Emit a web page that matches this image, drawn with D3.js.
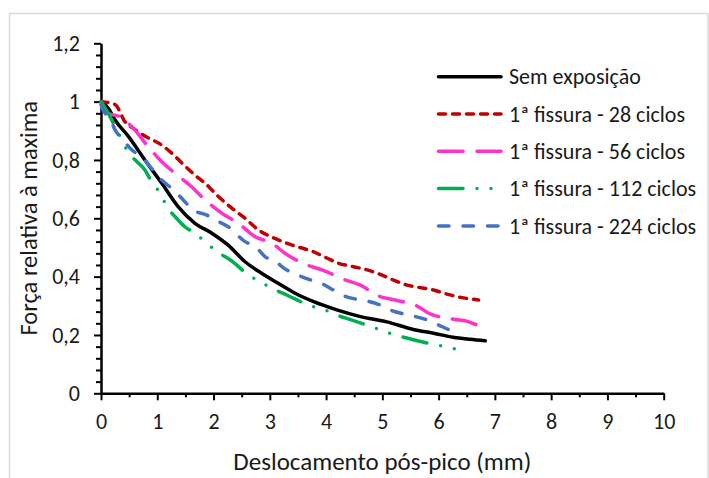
<!DOCTYPE html>
<html>
<head>
<meta charset="utf-8">
<script src="https://cdn.jsdelivr.net/npm/d3@7/dist/d3.min.js"></script>
<style>
  html, body { margin: 0; padding: 0; background: #fff; }
  svg { display: block; }
  text { font-family: Carlito, Calibri, Lato, sans-serif; fill: #1a1a1a; }
</style>
</head>
<body>
<svg id="chart" width="709" height="478"></svg>
<script>
// ---- data ----
const seriesNames = ["Sem exposição", "1ª fissura - 28 ciclos", "1ª fissura - 56 ciclos", "1ª fissura - 112 ciclos", "1ª fissura - 224 ciclos"];

const semExpX = [0, 0.13, 0.25, 0.49, 0.78, 1.08, 1.37, 1.67, 1.97, 2.26, 2.56, 2.86, 3.15, 3.45, 3.78, 4.19, 4.61, 5.08, 5.55, 5.91, 6.26, 6.56, 6.83];
const semExpY = [1.0, 0.977, 0.937, 0.88, 0.80, 0.72, 0.64, 0.583, 0.549, 0.508, 0.451, 0.411, 0.377, 0.343, 0.314, 0.286, 0.263, 0.245, 0.219, 0.206, 0.192, 0.185, 0.18];

const c28X = [0, 0.25, 0.43, 0.6, 0.78, 1.08, 1.26, 1.44, 1.67, 1.85, 2.09, 2.33, 2.56, 2.8, 3.1, 3.45, 3.78, 4.02, 4.22, 4.49, 4.73, 4.96, 5.2, 5.44, 5.68, 5.91, 6.15, 6.39, 6.71];
const c28Y = [1.0, 0.99, 0.93, 0.905, 0.882, 0.851, 0.823, 0.789, 0.748, 0.72, 0.674, 0.634, 0.60, 0.56, 0.53, 0.505, 0.485, 0.463, 0.446, 0.434, 0.423, 0.408, 0.388, 0.371, 0.362, 0.354, 0.34, 0.329, 0.32];

const c56X = [0, 0.13, 0.34, 0.6, 0.84, 1.08, 1.32, 1.61, 1.85, 2.15, 2.44, 2.74, 3.04, 3.27, 3.66, 3.93, 4.31, 4.61, 4.93, 5.23, 5.62, 5.85, 6.27, 6.54, 6.71];
const c56Y = [1.0, 0.96, 0.948, 0.903, 0.845, 0.794, 0.754, 0.708, 0.663, 0.617, 0.583, 0.537, 0.514, 0.48, 0.44, 0.423, 0.391, 0.371, 0.334, 0.32, 0.299, 0.272, 0.254, 0.245, 0.231];

const c112X = [0, 0.13, 0.25, 0.36, 0.47, 0.64, 0.78, 0.9, 1.06, 1.17, 1.32, 1.49, 1.67, 1.88, 2.08, 2.3, 2.62, 2.86, 3.1, 3.3, 3.72, 3.97, 4.22, 4.46, 4.88, 5.13, 5.38, 5.62, 6.06, 6.32];
const c112Y = [1.0, 0.96, 0.914, 0.874, 0.83, 0.794, 0.766, 0.725, 0.683, 0.64, 0.605, 0.571, 0.549, 0.514, 0.483, 0.457, 0.406, 0.379, 0.354, 0.337, 0.30, 0.286, 0.266, 0.251, 0.223, 0.206, 0.192, 0.18, 0.162, 0.151];

const c224X = [0, 0.04, 0.16, 0.25, 0.37, 0.55, 0.72, 0.9, 1.08, 1.29, 1.49, 1.64, 1.88, 2.03, 2.26, 2.56, 2.74, 2.92, 3.1, 3.3, 3.45, 3.72, 3.89, 4.13, 4.28, 4.55, 4.73, 4.96, 5.14, 5.38, 5.59, 5.8, 6.0, 6.21, 6.33];
const c224Y = [0.99, 0.97, 0.943, 0.903, 0.874, 0.834, 0.811, 0.771, 0.731, 0.697, 0.657, 0.628, 0.611, 0.594, 0.571, 0.52, 0.503, 0.468, 0.451, 0.423, 0.409, 0.389, 0.379, 0.354, 0.337, 0.322, 0.316, 0.303, 0.286, 0.272, 0.263, 0.251, 0.234, 0.217, 0.214];

const xTickValues = [0, 1, 2, 3, 4, 5, 6, 7, 8, 9, 10];
const xTickLabels = ["0", "1", "2", "3", "4", "5", "6", "7", "8", "9", "10"];
const yTickValues = [0, 0.2, 0.4, 0.6, 0.8, 1.0, 1.2];
const yTickLabels = ["0", "0,2", "0,4", "0,6", "0,8", "1", "1,2"];
const xTitle = "Deslocamento pós-pico (mm)";
const yTitle = "Força relativa à maxima";

// ---- styles ----
const colors = ["#000000", "#C00000", "#FF33CC", "#00B050", "#4472C4"];
const dashes = [null, "7,7", "24.5,14", "24.5,14,0,14,0,14", "10.5,14"];
const lineW = 3.5;

const seriesX = [semExpX, c28X, c56X, c112X, c224X];
const seriesY = [semExpY, c28Y, c56Y, c112Y, c224Y];

const svg = d3.select("#chart");

// outer chart border
svg.append("rect")
  .attr("x", 9.5).attr("y", 13.5)
  .attr("width", 698.5).attr("height", 480)
  .attr("fill", "#fff").attr("stroke", "#D9D9D9").attr("stroke-width", 1.5);

const x = d3.scaleLinear().domain([0, 10]).range([101, 663.7]);
const y = d3.scaleLinear().domain([0, 1.2]).range([393.3, 43.3]);

const tickFont = 22;

// minor ticks
const xMinor = d3.range(0, 10, 0.5).filter(v => v % 1 !== 0);
svg.append("g").attr("transform", `translate(0,${y(0)})`)
  .call(d3.axisBottom(x).tickValues(xMinor).tickSize(4).tickSizeOuter(0).tickFormat(""))
  .call(g => g.select(".domain").remove())
  .call(g => g.selectAll("line").attr("stroke", "#000").attr("stroke-width", 2));

const yMinor = d3.range(0, 1.2001, 0.04).filter(v => Math.abs(v * 5 - Math.round(v * 5)) > 1e-6);
svg.append("g").attr("transform", `translate(${x(0)},0)`)
  .call(d3.axisLeft(y).tickValues(yMinor).tickSize(5).tickSizeOuter(0).tickFormat(""))
  .call(g => g.select(".domain").remove())
  .call(g => g.selectAll("line").attr("stroke", "#000").attr("stroke-width", 2));

// major axes
const xAxis = svg.append("g").attr("transform", `translate(0,${y(0)})`)
  .call(d3.axisBottom(x).tickValues(xTickValues).tickSize(7).tickSizeOuter(0).tickPadding(13)
    .tickFormat((d, i) => xTickLabels[i]));
const yAxis = svg.append("g").attr("transform", `translate(${x(0)},0)`)
  .call(d3.axisLeft(y).tickValues(yTickValues).tickSize(7).tickSizeOuter(0).tickPadding(14)
    .tickFormat((d, i) => yTickLabels[i]));

[xAxis, yAxis].forEach(g => {
  g.select(".domain").attr("stroke", "#000").attr("stroke-width", 2.5);
  g.selectAll(".tick line").attr("stroke", "#000").attr("stroke-width", 2);
  g.selectAll("text").attr("font-size", tickFont).attr("fill", "#1a1a1a")
    .style("font-family", "Carlito, Calibri, Lato, sans-serif");
  g.attr("font-family", null).attr("font-size", null);
});

// axis titles
svg.append("text")
  .attr("x", (x(0) + x(10)) / 2).attr("y", 470)
  .attr("text-anchor", "middle").attr("font-size", 25)
  .text(xTitle);
svg.append("text")
  .attr("transform", `translate(37,${(y(0) + y(1.2)) / 2}) rotate(-90)`)
  .attr("text-anchor", "middle").attr("font-size", 24.5)
  .text(yTitle);

// series lines
const line = d3.line().x(d => x(d[0])).y(d => y(d[1])).curve(d3.curveMonotoneX);
seriesX.forEach((xs, i) => {
  const pts = xs.map((v, j) => [v, seriesY[i][j]]);
  svg.append("path")
    .datum(pts)
    .attr("d", line)
    .attr("fill", "none")
    .attr("stroke", colors[i])
    .attr("stroke-width", lineW)
    .attr("stroke-linecap", "round")
    .attr("stroke-linejoin", "round")
    .attr("stroke-dasharray", dashes[i]);
});

// legend
const legendY0 = 76.7, legendDy = 37.3;
const leg = svg.append("g");
seriesNames.forEach((name, i) => {
  const ly = legendY0 + i * legendDy;
  leg.append("line")
    .attr("x1", 438.5).attr("x2", 501)
    .attr("y1", ly).attr("y2", ly)
    .attr("stroke", colors[i]).attr("stroke-width", lineW)
    .attr("stroke-linecap", "round")
    .attr("stroke-dasharray", dashes[i]);
  leg.append("text")
    .attr("x", 509).attr("y", ly)
    .attr("dy", "0.35em")
    .attr("font-size", tickFont)
    .text(name);
});
</script>
</body>
</html>
